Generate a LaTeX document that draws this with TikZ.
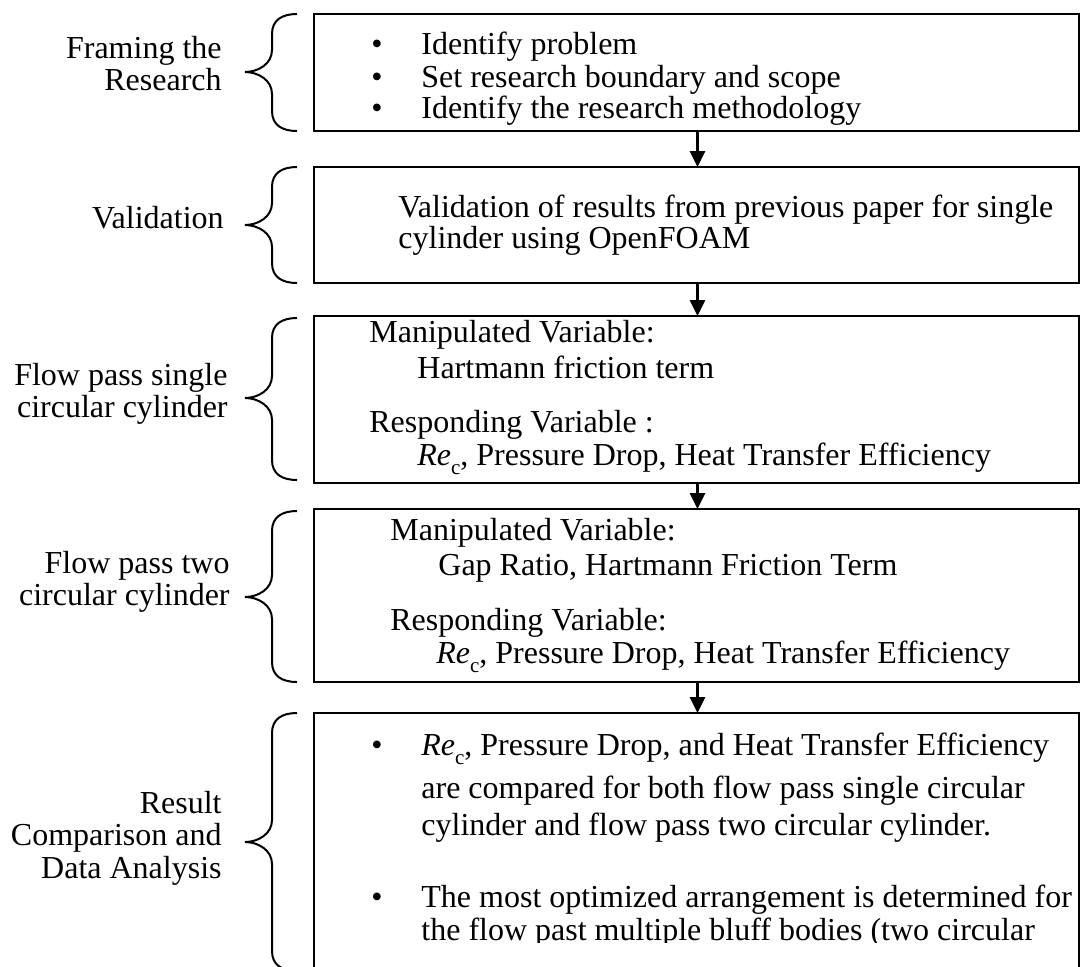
\documentclass[tikz,border=0pt]{standalone}
\usepackage{fontspec}
\setmainfont{Liberation Serif}
\usetikzlibrary{arrows.meta}

\tikzset{
  stepbox/.style={draw, line width=1pt, inner sep=0pt, outer sep=0pt},
  flow/.style={-{Triangle[length=8pt,width=7.5pt]}, line width=1.6pt},
  brace line/.style={line width=1pt},
  txt/.style={anchor=base west, inner sep=0pt, font=\fontsize{16}{19}\selectfont},
  lab/.style={anchor=base east, inner sep=0pt, font=\fontsize{16}{19}\selectfont},
  dot/.style={anchor=base, inner sep=0pt, font=\fontsize{16}{19}\selectfont}
}

% left curly brace: top, tip and bottom y
\newcommand{\sidebrace}[3]{%
  \draw[brace line] (297,#1) .. controls (282,#1) and (272,{#1+6}) .. (272,{#1+20})
    -- (272,{#2-22}) .. controls (272,{#2-8}) and (258,#2) .. (245,#2)
    .. controls (258,#2) and (272,{#2+8}) .. (272,{#2+22})
    -- (272,{#3-20}) .. controls (272,{#3-6}) and (282,#3) .. (297,#3);}
% Reynolds number with lowered c
\newcommand{\recrit}{\textit{Re}\raisebox{-0.3em}{\fontsize{10.5}{12}\selectfont c}}

\begin{document}
\begin{tikzpicture}[x=0.5pt, y=-0.5pt]
        \useasboundingbox (0,0) rectangle (1081,966);
        \clip (0,0) rectangle (1081,966);
        \coordinate (axis) at (697.5,0);

        % boxes
        \node[stepbox, minimum width=382.5pt, minimum height=58.5pt] (framing) at (696.5,72.5) {};
        \node[stepbox, minimum width=382.5pt, minimum height=58pt] (validation) at (696.5,225) {};
        \node[stepbox, minimum width=382.5pt, minimum height=83.5pt] (single) at (696.5,399.5) {};
        \node[stepbox, minimum width=382.5pt, minimum height=86.5pt] (twocyl) at (696.5,595.5) {};
        \node[stepbox, minimum width=382.5pt, minimum height=131pt] (result) at (696.5,844) {};

        % braces
        \sidebrace{14}{72}{131}
        \sidebrace{167}{225}{283}
        \sidebrace{318}{398}{480}
        \sidebrace{511}{597}{682}
        \sidebrace{713}{842}{971}

        % labels
        \node[lab] (framingLabA) at (222,58) {Framing the};
        \node[lab] (framingLabB) at (222,90) {Research};
        \node[lab] (validLab) at (224,228) {Validation};
        \node[lab] (singleLabA) at (228,385) {Flow pass single};
        \node[lab] (singleLabB) at (228,417) {circular cylinder};
        \node[lab] (twoLabA) at (230,573) {Flow pass two};
        \node[lab] (twoLabB) at (230,605) {circular cylinder};
        \node[lab] (resultLabA) at (222,813) {Result};
        \node[lab] (resultLabB) at (222,845) {Comparison and};
        \node[lab] (resultLabC) at (222,878) {Data Analysis};

        % box texts
        \node[dot] (framingDotA) at (377,54) {\textbullet};
        \node[dot] (framingDotB) at (377,87) {\textbullet};
        \node[dot] (framingDotC) at (377,118) {\textbullet};
        \node[txt] (framingA) at (421,54) {Identify problem};
        \node[txt] (framingB) at (421,87) {Set research boundary and scope};
        \node[txt] (framingC) at (421,118) {Identify the research methodology};

        \node[txt] (validA) at (398,217) {Validation of results from previous paper for single};
        \node[txt] (validB) at (398,248) {cylinder using OpenFOAM};

        \node[txt] (singleA) at (369,342) {Manipulated Variable:};
        \node[txt] (singleB) at (417,378) {Hartmann friction term};
        \node[txt] (singleC) at (369,432) {Responding Variable :};
        \node[txt] (singleD) at (417,465) {\recrit, Pressure Drop, Heat Transfer Efficiency};

        \node[txt] (twoA) at (390,540) {Manipulated Variable:};
        \node[txt] (twoB) at (438,575) {Gap Ratio, Hartmann Friction Term};
        \node[txt] (twoC) at (390,630) {Responding Variable:};
        \node[txt] (twoD) at (436,663) {\recrit, Pressure Drop, Heat Transfer Efficiency};

        \begin{scope}
          \clip (0,0) rectangle (1081,942);
          \node[dot] (resultDotA) at (377,755) {\textbullet};
          \node[dot] (resultDotB) at (377,907) {\textbullet};
          \node[txt] (resultA) at (421,755) {\recrit, Pressure Drop, and Heat Transfer Efficiency};
          \node[txt] (resultB) at (421,798) {are compared for both flow pass single circular};
          \node[txt] (resultC) at (421,835) {cylinder and flow pass two circular cylinder.};
          \node[txt] (resultD) at (421,907) {The most optimized arrangement is determined for};
          \node[txt] (resultE) at (421,940) {the flow past multiple bluff bodies (two circular};
        \end{scope}

        % arrows
        \draw[flow] (framing.south -| axis) -- (validation.north -| axis);
        \draw[flow] (validation.south -| axis) -- (single.north -| axis);
        \draw[flow] (single.south -| axis) -- (twocyl.north -| axis);
        \draw[flow] (twocyl.south -| axis) -- (result.north -| axis);
\end{tikzpicture}
\end{document}
